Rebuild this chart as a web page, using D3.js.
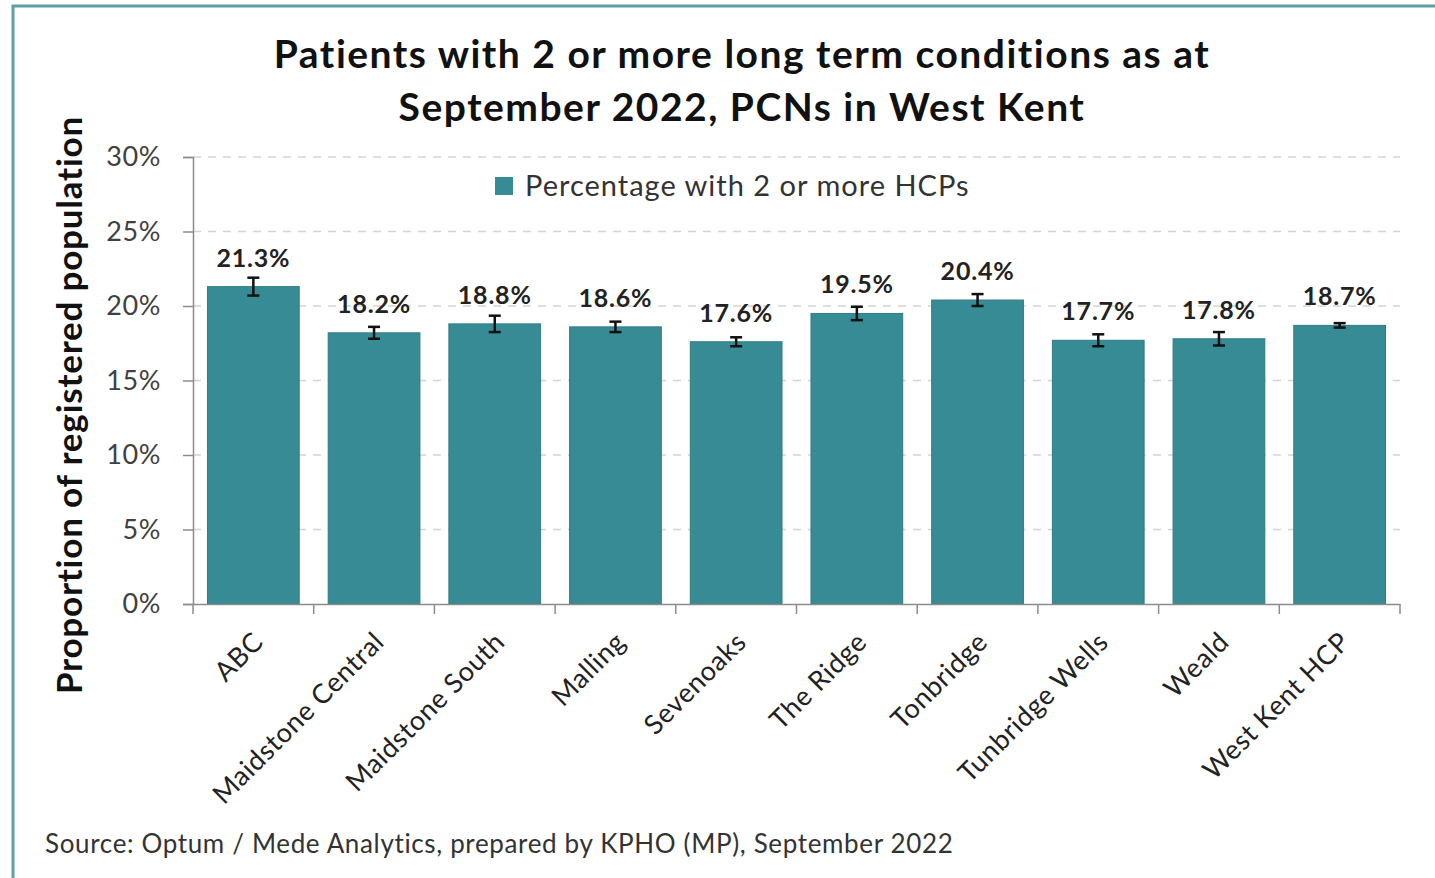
<!DOCTYPE html>
<html>
<head>
<meta charset="utf-8">
<script src="https://cdn.jsdelivr.net/npm/d3@7"></script>
<style>
  body { margin: 0; background: #fff; }
  svg { display: block; font-family: Lato, "Open Sans", sans-serif; }
</style>
</head>
<body>
<div id="chart"></div>
<script>
const categories = ["ABC", "Maidstone Central", "Maidstone South", "Malling", "Sevenoaks",
    "The Ridge", "Tonbridge", "Tunbridge Wells", "Weald", "West Kent HCP"];
const values = [21.3, 18.2, 18.8, 18.6, 17.6, 19.5, 20.4, 17.7, 17.8, 18.7];
const errors = [0.6, 0.4, 0.55, 0.35, 0.3, 0.45, 0.4, 0.4, 0.45, 0.15];
const yTicks = [0, 5, 10, 15, 20, 25, 30];

const titleLines = ["Patients with 2 or more long term conditions as at",
    "September 2022, PCNs in West Kent"];
const legendLabel = "Percentage with 2 or more HCPs";
const yLabel = "Proportion of registered population";
const sourceText = "Source: Optum / Mede Analytics, prepared by KPHO (MP), September 2022";

const W = 1435, H = 878;
const margin = {top: 157, right: 35, bottom: 274, left: 193};
const width = W - margin.left - margin.right;
const height = H - margin.top - margin.bottom;
const barColor = "#378b94";

const svg = d3.select("#chart").append("svg")
    .attr("width", W).attr("height", H);

// outer frame
svg.append("path")
    .attr("d", `M13,${H + 5} L13,6 L${W + 5},6`)
    .attr("fill", "none").attr("stroke", "#5c9fa4").attr("stroke-width", 3);

// title
svg.append("text")
    .attr("x", 742).attr("y", 68)
    .attr("text-anchor", "middle")
    .attr("font-weight", "bold").attr("font-size", 39).attr("letter-spacing", 1.5).attr("fill", "#111")
    .selectAll("tspan").data(titleLines).enter().append("tspan")
    .attr("x", 742).attr("dy", (d, i) => i === 0 ? 0 : 53)
    .text(d => d);

const g = svg.append("g").attr("transform", `translate(${margin.left},${margin.top})`);

const x = d3.scaleBand().domain(categories).range([0, width]).paddingInner(0.24).paddingOuter(0.12);
const y = d3.scaleLinear().domain([0, 30]).range([height, 0]);

// gridlines
g.append("g").selectAll("line").data(yTicks.filter(t => t > 0)).enter().append("line")
    .attr("x1", 0).attr("x2", width)
    .attr("y1", d => y(d)).attr("y2", d => y(d))
    .attr("stroke", "#d4d4d4").attr("stroke-width", 1.5).attr("stroke-dasharray", "8,7");

// y axis
const yAxis = g.append("g")
    .call(d3.axisLeft(y).tickValues(yTicks).tickFormat(d => d + "%").tickSize(10).tickPadding(22));
yAxis.select(".domain").attr("stroke", "#8c8c8c").attr("stroke-width", 1.5);
yAxis.selectAll(".tick line").attr("stroke", "#8c8c8c").attr("stroke-width", 1.5);
yAxis.selectAll(".tick text").attr("font-size", 27).attr("letter-spacing", 0.6).attr("fill", "#404040")
    .attr("font-family", "Lato, sans-serif");

// bars
g.selectAll(".bar").data(categories).enter().append("rect")
    .attr("class", "bar")
    .attr("x", d => x(d))
    .attr("width", x.bandwidth())
    .attr("y", (d, i) => y(values[i]))
    .attr("height", (d, i) => height - y(values[i]))
    .attr("fill", barColor).attr("stroke", "#2e7d86").attr("stroke-width", 1);

// error bars
const eb = g.selectAll(".err").data(categories).enter().append("g").attr("class", "err")
    .attr("transform", d => `translate(${x(d) + x.bandwidth() / 2},0)`);
eb.append("line")
    .attr("y1", (d, i) => y(values[i] + errors[i]))
    .attr("y2", (d, i) => y(values[i] - errors[i]))
    .attr("stroke", "#111").attr("stroke-width", 2.5);
[1, -1].forEach(s => {
    eb.append("line")
        .attr("x1", -6).attr("x2", 6)
        .attr("y1", (d, i) => y(values[i] + s * errors[i]))
        .attr("y2", (d, i) => y(values[i] + s * errors[i]))
        .attr("stroke", "#111").attr("stroke-width", 2.5);
});

// value labels
g.selectAll(".val").data(categories).enter().append("text")
    .attr("x", d => x(d) + x.bandwidth() / 2)
    .attr("y", (d, i) => y(values[i]) - 20)
    .attr("text-anchor", "middle")
    .attr("font-weight", "bold").attr("font-size", 25).attr("letter-spacing", 0.8).attr("fill", "#222")
    .text((d, i) => values[i].toFixed(1) + "%");

// x axis
const xAxis = g.append("g").attr("transform", `translate(0,${height})`)
    .call(d3.axisBottom(x).tickSize(0).tickSizeOuter(0));
xAxis.select(".domain").attr("stroke", "#8c8c8c").attr("stroke-width", 1.5);
xAxis.selectAll(".tick text")
    .attr("font-size", 27).attr("letter-spacing", 0.6).attr("fill", "#222").attr("font-family", "Lato, sans-serif")
    .attr("text-anchor", "end")
    .attr("transform", "translate(5,33) rotate(-45)")
    .attr("dy", "0.35em").attr("y", 0);
// category boundary ticks
g.append("g").selectAll("line").data(d3.range(categories.length + 1)).enter().append("line")
    .attr("x1", i => i * width / categories.length)
    .attr("x2", i => i * width / categories.length)
    .attr("y1", height).attr("y2", height + 10)
    .attr("stroke", "#8c8c8c").attr("stroke-width", 1.5);

// y axis title
svg.append("text")
    .attr("transform", `translate(82,405) rotate(-90)`)
    .attr("text-anchor", "middle")
    .attr("font-weight", "bold").attr("font-size", 35).attr("letter-spacing", 0.8).attr("fill", "#111")
    .text(yLabel);

// legend
const lg = svg.append("g").attr("transform", "translate(495,177)");
lg.append("rect").attr("width", 18).attr("height", 18).attr("fill", barColor);
lg.append("text").attr("x", 30).attr("y", 19)
    .attr("font-size", 29).attr("letter-spacing", 1).attr("fill", "#333").text(legendLabel);

// source
svg.append("text").attr("x", 45).attr("y", 853)
    .attr("font-size", 26).attr("letter-spacing", 0.65).attr("fill", "#333").text(sourceText);
</script>
</body>
</html>
